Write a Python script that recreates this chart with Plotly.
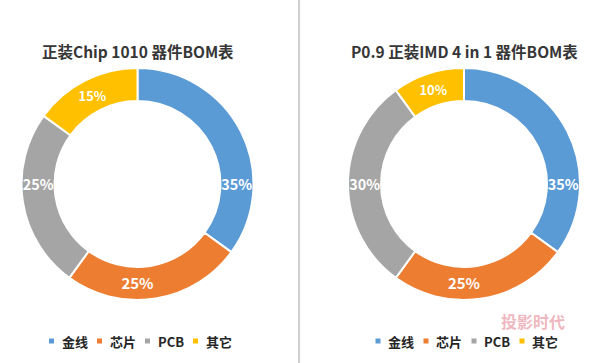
import plotly.graph_objects as go

W, H = 600, 363

categories = ["金线", "芯片", "PCB", "其它"]
colors = ["#5B9BD5", "#ED7D31", "#A5A5A5", "#FFC000"]

title_left = "正装Chip 1010 器件BOM表"
values_left = [35, 25, 25, 15]

title_right = "P0.9 正装IMD 4 in 1 器件BOM表"
values_right = [35, 25, 30, 10]

FONT = "Noto Sans CJK SC, Microsoft YaHei, sans-serif"

charts = [
    dict(title=title_left, values=values_left, cx=137.5, cy=184, r=116),
    dict(title=title_right, values=values_right, cx=464, cy=184, r=116),
]

fig = go.Figure()
annotations = []
shapes = []

def px(x):
    return x / W

def py(y):
    return (H - y) / H

for ch in charts:
    cx, cy, r = ch["cx"], ch["cy"], ch["r"]
    fig.add_trace(go.Pie(
        labels=categories,
        values=ch["values"],
        hole=0.715,
        sort=False,
        direction="clockwise",
        rotation=0,
        marker=dict(colors=colors, line=dict(color="white", width=2)),
        texttemplate="<b>%{value}%</b>",
        textposition="inside",
        insidetextorientation="horizontal",
        textfont=dict(family=FONT, size=15, color="white"),
        showlegend=False,
        hoverinfo="label+percent",
        domain=dict(x=[px(cx - r), px(cx + r)], y=[py(cy + r), py(cy - r)]),
    ))
    annotations.append(dict(
        text="<b>" + ch["title"] + "</b>",
        x=px(cx), y=py(51), xref="paper", yref="paper",
        xanchor="center", yanchor="middle", showarrow=False,
        font=dict(family=FONT, size=15.5, color="#363636"),
    ))
    # legend built from categories/colors
    ly = 341
    for i, (lab, col) in enumerate(zip(categories, colors)):
        mx = cx - 86 + 48 * i
        shapes.append(dict(
            type="rect", xref="paper", yref="paper",
            x0=px(mx - 2.5), x1=px(mx + 2.5), y0=py(ly + 2.5), y1=py(ly - 2.5),
            fillcolor=col, line=dict(width=0),
        ))
        annotations.append(dict(
            text="<b>" + lab + "</b>",
            x=px(mx + 8), y=py(ly), xref="paper", yref="paper",
            xanchor="left", yanchor="middle", showarrow=False,
            font=dict(family=FONT, size=13, color="#262626"),
        ))

# divider between the two charts
shapes.append(dict(type="line", xref="paper", yref="paper",
                   x0=px(299), x1=px(299), y0=0, y1=1,
                   line=dict(color="#cfcfcf", width=2)))

# watermark
annotations.append(dict(
    text="<b>投影时代</b>", x=px(533), y=py(321), xref="paper", yref="paper",
    xanchor="center", yanchor="middle", showarrow=False,
    font=dict(family=FONT, size=16, color="rgba(226,120,135,0.55)"),
))

fig.update_layout(
    width=W, height=H,
    margin=dict(l=0, r=0, t=0, b=0),
    paper_bgcolor="white",
    plot_bgcolor="white",
    annotations=annotations,
    shapes=shapes,
)

fig.write_html("out.html", config={"displayModeBar": False},
               post_script="document.body.style.margin='0';")
